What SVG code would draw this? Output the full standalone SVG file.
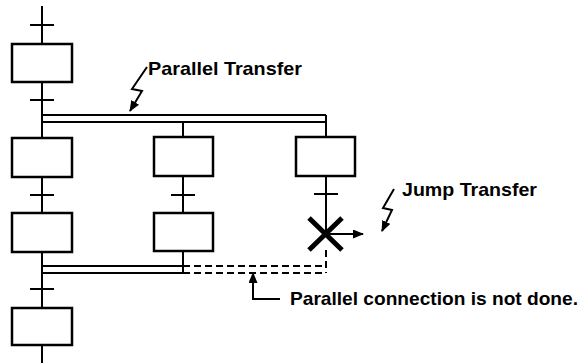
<svg xmlns="http://www.w3.org/2000/svg" width="580" height="363" viewBox="0 0 580 363">
<style>
.ln{stroke:#000;stroke-width:2;fill:none}
.bx{stroke:#000;stroke-width:2.5;fill:#fff}
.ds{stroke:#000;stroke-width:2;fill:none;stroke-dasharray:7 4}
.tx{font-family:"Liberation Sans",Arial,sans-serif;font-weight:bold;font-size:19px;fill:#000}
</style>
<defs>
<marker id="ah" markerWidth="11" markerHeight="9" refX="10" refY="4.5" orient="auto" markerUnits="userSpaceOnUse">
<path d="M0,0 L11,4.5 L0,9 Z" fill="#000"/>
</marker>
</defs>
<rect width="580" height="363" fill="#fff"/>
<g id="connectors">
<path class="ln" d="M42,6 V44 M42,82 V138 M42,177 V213 M42,252 V308 M42,345 V363"/>
<path class="ln" d="M30,25 H54 M30,100 H54 M30,195 H54 M30,289 H54"/>
<path class="ln" d="M42,115 H326 M42,122 H326 M326,115 V137 M183,122 V137"/>
<path class="ln" d="M183,176 V213 M183,251 V273 M171,195 H195"/>
<path class="ln" d="M326,176 V234 M314,194 H338"/>
<path class="ln" d="M42,266 H183 M42,273 H183"/>
<path class="ds" d="M183,266 H326 M183,273 H326 M326,250 V273"/>
<path d="M309,218 L342,250 M342,218 L309,250" stroke="#000" stroke-width="5" fill="none"/>
<path class="ln" d="M326,234 H363" marker-end="url(#ah)"/>
<path class="ln" d="M147,67 L132,89 L142,91 L130,111" marker-end="url(#ah)"/>
<path class="ln" d="M394,189 L383,208 L392,210 L382,231" marker-end="url(#ah)"/>
<path class="ln" d="M280,299 H253 V273" marker-end="url(#ah)"/>
</g>
<g id="step1"><rect class="bx" x="12" y="44" width="60" height="38"/></g>
<g id="step2"><rect class="bx" x="12" y="138" width="60" height="39"/></g>
<g id="step3"><rect class="bx" x="12" y="213" width="60" height="39"/></g>
<g id="step4"><rect class="bx" x="12" y="308" width="60" height="37"/></g>
<g id="step5"><rect class="bx" x="154" y="137" width="59" height="39"/></g>
<g id="step6"><rect class="bx" x="154" y="213" width="59" height="38"/></g>
<g id="step7"><rect class="bx" x="296" y="137" width="59" height="39"/></g>
<g id="labels">
<text class="tx" x="148" y="75" textLength="154" lengthAdjust="spacingAndGlyphs">Parallel Transfer</text>
<text class="tx" x="402" y="196" textLength="135" lengthAdjust="spacingAndGlyphs">Jump Transfer</text>
<text class="tx" x="290" y="305" textLength="288" lengthAdjust="spacingAndGlyphs">Parallel connection is not done.</text>
</g>
</svg>
